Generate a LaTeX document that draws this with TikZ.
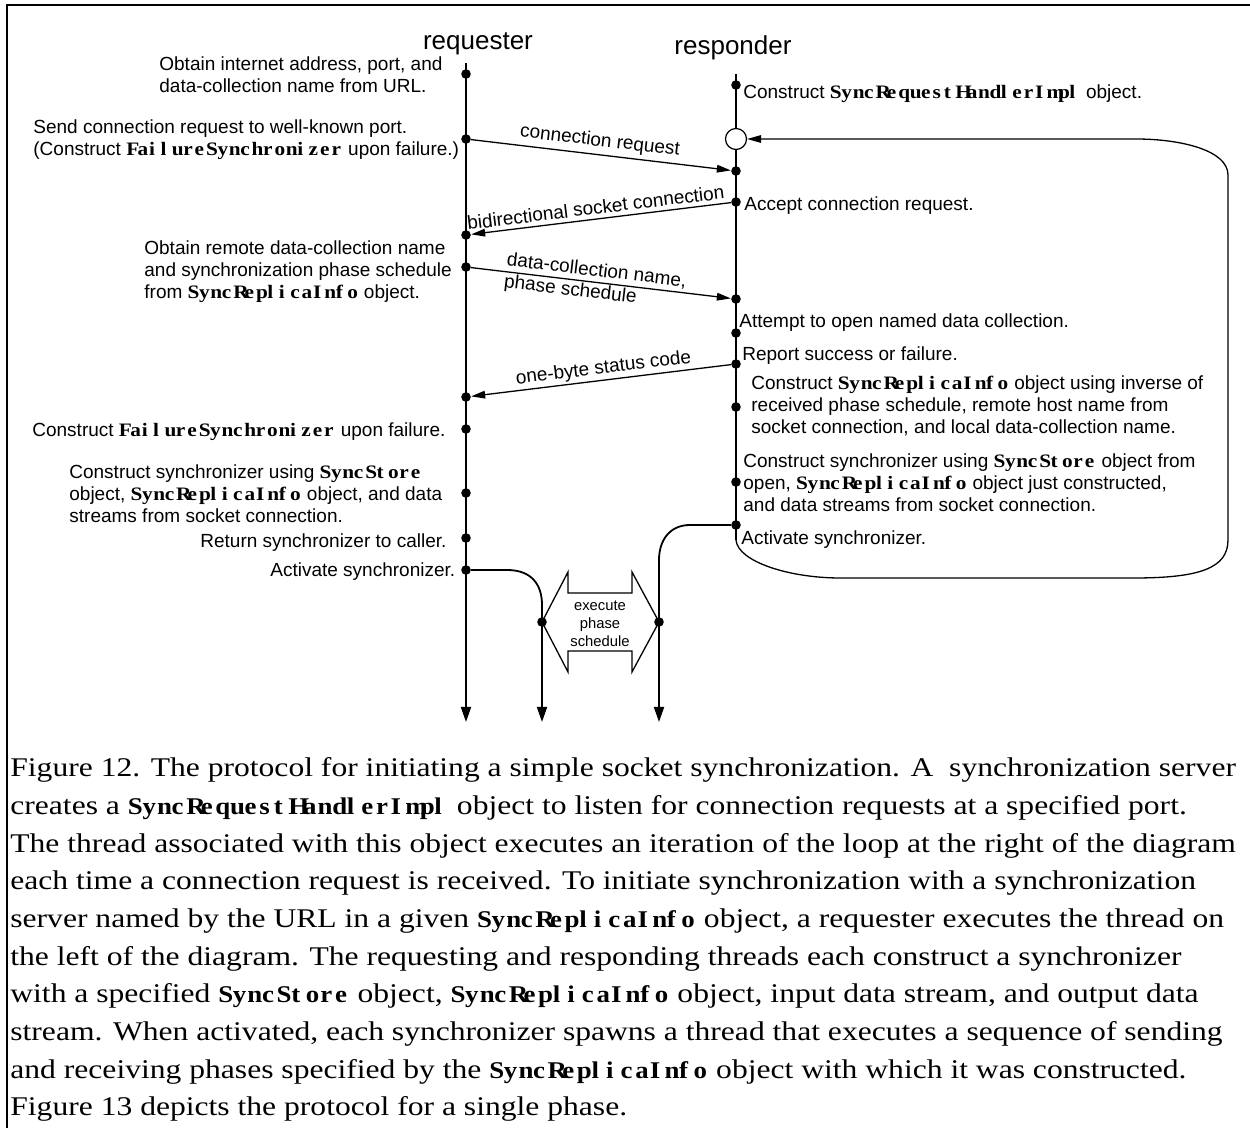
\documentclass[tikz,border=0pt]{standalone}
\usepackage{fontspec}
\setmainfont{Liberation Serif}
\newfontfamily\capfont{Liberation Serif}[FakeStretch=1.17]
\newfontfamily\lab{Liberation Sans}
\newfontfamily\clsfont{Liberation Serif}[FakeStretch=1.12]
\usetikzlibrary{arrows.meta}
\newlength\clsw
\newcommand\cls[2][5.7pt]{{\setlength\clsw{#1}\clsfont\bfseries\clsloop#2\relax}}
\newcommand\clsloop[1]{\ifx\relax#1\else\makebox[\clsw][l]{#1}\expandafter\clsloop\fi}
\newcommand\capcls[1]{{\fontsize{12}{18.85}\selectfont\cls[7.3pt]{#1}}}
\begin{document}
\begin{tikzpicture}[x=0.5pt,y=-0.5pt,
  dot/.style={circle,fill=black,inner sep=0pt,minimum size=4.8pt},
  opendot/.style={circle,draw=black,fill=white,line width=0.6pt,inner sep=0pt,minimum size=10.5pt},
  lifeline/.style={line width=0.9pt},
  msg/.style={line width=0.65pt},
  tipR/.style={-{Triangle[length=7pt,width=3.8pt]}},
  tipL/.style={{Triangle[length=7pt,width=3.8pt]}-},
  downtip/.style={-{Triangle[length=7.5pt,width=5pt]}},
  lbl/.style={font=\lab\fontsize{9.5}{11}\selectfont, inner sep=0pt, align=left, anchor=base west},
  head/.style={font=\lab\fontsize{13}{15}\selectfont, inner sep=0pt, anchor=base},
  msglbl/.style={font=\lab\fontsize{9.5}{11}\selectfont, inner sep=2pt},
  captext/.style={font=\capfont\fontsize{13.5}{18.85}\selectfont, inner sep=0pt, align=left, anchor=base west},
]
\useasboundingbox (0,0) rectangle (1250,1128);
% frame
\draw[line width=1.2pt] (7,1128) -- (7,5) -- (1250,5);

% headers
\node[head] (hreq) at (478,50) {requester};
\node[head] (hresp) at (733,55) {responder};

% requester lifeline
\coordinate (qtop) at (466,63);
\coordinate (qbot) at (466,722);
\draw[lifeline,downtip] (qtop) -- (qbot);

% responder lifeline and loop
\coordinate (ptop) at (736,74);
\coordinate (pbend) at (736,540);
\node[opendot] (pc) at (736,139) {};
\draw[lifeline] (ptop) -- (pc);
\draw[lifeline] (pc) -- (pbend);
\draw[msg,tipR] (pbend) .. controls (738,562) and (790,578) .. (840,578) -- (1134,578)
   .. controls (1200,578) and (1228,568) .. (1228,540) -- (1228,175)
   .. controls (1228,150) and (1180,139) .. (1136,139) -- (pc);

% dots
\node[dot] (q1) at (466,74) {};
\node[dot] (q2) at (466,139) {};
\node[dot] (q3) at (466,235) {};
\node[dot] (q4) at (466,267) {};
\node[dot] (q5) at (466,397) {};
\node[dot] (q6) at (466,429) {};
\node[dot] (q7) at (466,493) {};
\node[dot] (q8) at (466,538) {};
\node[dot] (q9) at (466,570) {};
\node[dot] (p1) at (736,85) {};
\node[dot] (p2) at (736,171) {};
\node[dot] (p3) at (736,202) {};
\node[dot] (p4) at (736,299) {};
\node[dot] (p5) at (736,333) {};
\node[dot] (p6) at (736,364) {};
\node[dot] (p7) at (736,407) {};
\node[dot] (p8) at (736,482) {};
\node[dot] (p9) at (736,525) {};

% activation
\coordinate (abot1) at (542,722);
\coordinate (abot2) at (659,722);
\draw[lifeline,downtip] (q9) -- (507,570) .. controls (532,570) and (542,585) .. (542,605) -- (abot1);
\draw[lifeline,downtip] (p9) -- (690,525) .. controls (670,525) and (659,540) .. (659,560) -- (abot2);
\draw[msg,fill=white] (542,622) -- (568,572) -- (568,593) -- (632,593) -- (632,572) -- (659,622)
   -- (632,672) -- (632,651) -- (568,651) -- (568,672) -- cycle;
\node[font=\lab\fontsize{7.4}{9}\selectfont, align=center, inner sep=0pt] (exec) at (600,624) {execute\\phase\\schedule};
\node[dot] (a1) at (542,622) {};
\node[dot] (a2) at (659,622) {};

% messages
\draw[msg,tipR] (q2) -- node[msglbl, sloped, above, pos=0.49] (m1) {connection request} (p2);
\draw[msg,tipL] (q3) -- node[msglbl, sloped, above, pos=0.485] (m2) {bidirectional socket connection} (p3);
\draw[msg,tipR] (q4) -- node[msglbl, sloped, anchor=west, pos=0.13, align=left, inner sep=0pt] (m3) {data-collection name,\\phase schedule} (p4);
\draw[msg,tipL] (q5) -- node[msglbl, sloped, above, pos=0.515, inner sep=1pt] (m4) {one-byte status code} (p6);

% requester labels (anchor = baseline of last line)
\node[lbl] (l1) at (159,93) {Obtain internet address, port, and\\data-collection name from URL.};
\node[lbl] (l2) at (33,156) {Send connection request to well-known port.\\(Construct \cls{FailureSynchronizer} upon failure.)};
\node[lbl] (l3) at (144,299) {Obtain remote data-collection name\\and synchronization phase schedule\\from \cls{SyncReplicaInfo} object.};
\node[lbl] (l4) at (32,437) {Construct \cls{FailureSynchronizer} upon failure.};
\node[lbl] (l5) at (69,523) {Construct synchronizer using \cls{SyncStore}\\object, \cls{SyncReplicaInfo} object, and data\\streams from socket connection.};
\node[lbl] (l6) at (200,548) {Return synchronizer to caller.};
\node[lbl] (l7) at (270,577) {Activate synchronizer.};

% responder labels
\node[lbl] (r1) at (743,99) {Construct \cls{SyncRequestHandlerImpl} object.};
\node[lbl] (r2) at (744,211) {Accept connection request.};
\node[lbl] (r3) at (739,328) {Attempt to open named data collection.};
\node[lbl] (r4) at (742,361) {Report success or failure.};
\node[lbl] (r5) at (751,434) {Construct \cls{SyncReplicaInfo} object using inverse of\\received phase schedule, remote host name from\\socket connection, and local data-collection name.};
\node[lbl] (r6) at (743,512) {Construct synchronizer using \cls{SyncStore} object from\\open, \cls{SyncReplicaInfo} object just constructed,\\and data streams from socket connection.};
\node[lbl] (r7) at (741,545) {Activate synchronizer.};

% caption
\node[captext] (caption) at (10,1116) {%
Figure 12.  The protocol for initiating a simple socket synchronization.  A~~synchronization server\\
creates a \capcls{SyncRequestHandlerImpl} object to listen for connection requests at a specified port.\\
The thread associated with this object executes an iteration of the loop at the right of the diagram\\
each time a connection request is received.  To initiate synchronization with a synchronization\\
server named by the URL in a given \capcls{SyncReplicaInfo} object, a requester executes the thread on\\
the left of the diagram.  The requesting and responding threads each construct a synchronizer\\
with a specified \capcls{SyncStore} object, \capcls{SyncReplicaInfo} object, input data stream, and output data\\
stream.  When activated, each synchronizer spawns a thread that executes a sequence of sending\\
and receiving phases specified by the \capcls{SyncReplicaInfo} object with which it was constructed.\\
Figure 13 depicts the protocol for a single phase.};
\end{tikzpicture}
\end{document}
